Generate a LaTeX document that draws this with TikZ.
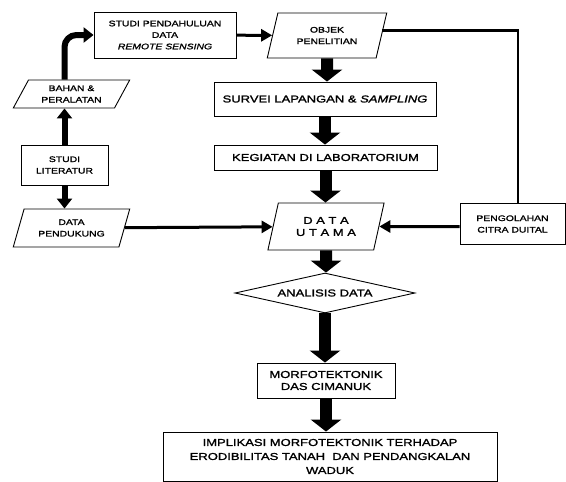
\documentclass[tikz,border=0pt]{standalone}
\usepackage{fontspec}
\newfontfamily\diagfont{Liberation Sans}[FakeStretch=1.3, FakeBold=1.5]
\usetikzlibrary{shapes.geometric,arrows.meta}
\newcommand\teksbesar{\diagfont\fontsize{10}{12}\selectfont}
\newcommand\tekskecil{\diagfont\fontsize{8}{11.5}\selectfont}

\begin{document}
\begin{tikzpicture}
[x=1pt, y=-1pt,
 kotak/.style={draw, line width=.9pt, align=center, inner sep=0pt, fill=white},
 jajar/.style={kotak, trapezium, trapezium stretches=true},
 blok/.style={line width=12pt, -{Triangle[width=30pt,length=12pt]}},
 panah/.style={line width=3pt, -{Triangle[width=12pt,length=11pt]}},
 panahtebal/.style={line width=6pt, -{Triangle[width=15pt,length=10pt]}}]
\useasboundingbox (0,0) rectangle (566,482);

% kolom kiri
\node (Bahan) at (71.5,94) [jajar, trapezium left angle=58, trapezium right angle=122,
  minimum width=117pt, minimum height=28pt, font=\tekskecil] {BAHAN \&\\PERALATAN};
\node (Literatur) at (64.5,165) [kotak, minimum width=87pt, minimum height=40pt,
  font=\tekskecil] {STUDI\\LITERATUR};
\node (Pendukung) at (71.5,228) [jajar, trapezium left angle=66, trapezium right angle=114,
  minimum width=117pt, minimum height=38pt, font=\tekskecil] {DATA\\PENDUKUNG};

% kolom tengah
\node (Pendahuluan) at (165,35) [kotak, minimum width=142pt, minimum height=46pt,
  font=\tekskecil] {STUDI PENDAHULUAN\\DATA\\\textit{REMOTE SENSING}};
\node (Objek) at (327,35.5) [jajar, trapezium left angle=69, trapezium right angle=111,
  minimum width=120pt, minimum height=45pt, font=\tekskecil] {OBJEK\\PENELITIAN};
\node (Survei) at (325,99) [kotak, minimum width=222pt, minimum height=34pt,
  font=\teksbesar] {SURVEI LAPANGAN \& \textit{SAMPLING}};
\node (Lab) at (325.5,157.5) [kotak, minimum width=223pt, minimum height=25pt,
  font=\teksbesar] {KEGIATAN DI LABORATORIUM};
\node (Utama) at (326,226.5) [jajar, trapezium left angle=71, trapezium right angle=109,
  minimum width=117pt, minimum height=47pt, font=\teksbesar] {D A T A\\U T A M A};
\node (Olah) at (512.5,224) [kotak, minimum width=105pt, minimum height=41pt,
  font=\tekskecil] {PENGOLAHAN\\CITRA DUITAL};
\node (Analisis) at (325,293) [kotak, diamond, aspect=4.5, minimum width=180pt,
  minimum height=40pt, font=\teksbesar] {ANALISIS DATA};
\node (Morfo) at (326,380.5) [kotak, minimum width=138pt, minimum height=35pt,
  font=\teksbesar] {MORFOTEKTONIK\\DAS CIMANUK};
\node (Implikasi) at (330,456.5) [kotak, minimum width=334pt, minimum height=49pt,
  font=\diagfont\fontsize{10}{14}\selectfont]
  {IMPLIKASI MORFOTEKTONIK TERHADAP\\ERODIBILITAS TANAH \ DAN PENDANGKALAN\\WADUK};

% panah kiri
\draw[panahtebal] (Literatur) -- (Literatur |- Bahan.south);
\draw[panahtebal] (Literatur) -- (Literatur |- Pendukung.north);
\draw[panahtebal, rounded corners=12pt] (Literatur |- Bahan.north) |- (Pendahuluan);

% panah mendatar
\draw[panah] (Pendahuluan) -- (Objek);
\draw[panah] (Pendukung) -- (Utama);
\draw[panah] (Olah.west |- Utama) -- (Utama);
\draw[line width=2.2pt] ([yshift=5pt]Objek.east) -| ([xshift=5.5pt]Olah.north);

% panah blok
\draw[blok] (Objek) -- (Objek |- Survei.north);
\draw[blok] (Survei) -- (Survei |- Lab.north);
\draw[blok] (Lab) -- (Lab |- Utama.north);
\draw[blok] (Utama) -- (Utama |- Analisis.north);
\draw[blok] (Analisis) -- (Analisis |- Morfo.north);
\draw[blok] (Morfo) -- (Morfo |- Implikasi.north);
\end{tikzpicture}
\end{document}
